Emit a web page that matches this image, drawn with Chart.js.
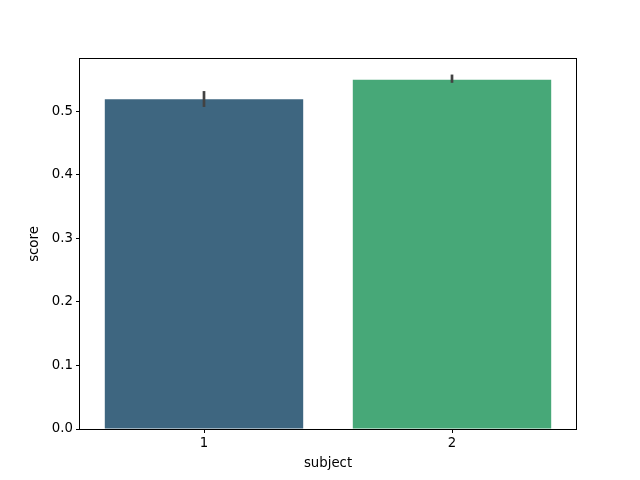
<!DOCTYPE html>
<html>
<head>
<meta charset="utf-8">
<script src="https://cdn.jsdelivr.net/npm/chart.js@4"></script>
<style>
  body { margin: 0; background: #fff; }
  #chart { display: block; }
</style>
</head>
<body>
<canvas id="chart" width="640" height="480"></canvas>
<script>
// data
var subjects = ["1", "2"];
var scores = [0.519, 0.550];
var errLow = [0.507, 0.545];
var errHigh = [0.532, 0.558];
var yTicks = [0, 0.1, 0.2, 0.3, 0.4, 0.5];
var barColours = ["#3e6680", "#47a878"];

// error bars on top of the bars
var errorBars = {
  id: "errorBars",
  afterDatasetsDraw: function(chart) {
    var ctx = chart.ctx;
    var x = chart.scales.x;
    var y = chart.scales.y;
    ctx.save();
    ctx.strokeStyle = "#424242";
    ctx.lineWidth = 2.7;
    for (var i = 0; i < subjects.length; i++) {
      var px = x.getPixelForValue(i);
      ctx.beginPath();
      ctx.moveTo(px, y.getPixelForValue(errLow[i]));
      ctx.lineTo(px, y.getPixelForValue(errHigh[i]));
      ctx.stroke();
    }
    ctx.restore();
  }
};

// matplotlib style box round the axes
var frame = {
  id: "frame",
  afterDraw: function(chart) {
    var a = chart.chartArea;
    var ctx = chart.ctx;
    var l = Math.floor(a.left) - 0.5, r = Math.ceil(a.right) + 0.5;
    var t = Math.floor(a.top) - 0.5, b = Math.floor(a.bottom) + 0.5;
    ctx.save();
    ctx.strokeStyle = "#000";
    ctx.lineWidth = 1;
    ctx.strokeRect(l, t, r - l, b - t);
    ctx.restore();
  }
};

var font = { family: "DejaVu Sans", size: 13.3 };

new Chart(document.getElementById("chart").getContext("2d"), {
  type: "bar",
  data: {
    labels: subjects,
    datasets: [{
      data: scores,
      backgroundColor: barColours,
      borderWidth: 0,
      categoryPercentage: 0.8,
      barPercentage: 1.0
    }]
  },
  options: {
    responsive: false,
    animation: false,
    devicePixelRatio: 1,
    layout: { padding: { left: 23, top: 59, right: 64, bottom: 4 } },
    plugins: {
      legend: { display: false },
      tooltip: { enabled: false }
    },
    scales: {
      x: {
        grid: { display: true, offset: false, drawOnChartArea: false, tickLength: 4, color: "#000", tickColor: "#000" },
        border: { display: false },
        ticks: { color: "#000", font: font, padding: 3 },
        title: { display: true, text: "subject", color: "#000", font: font },
        afterFit: function(s) { s.height = 47; }
      },
      y: {
        min: 0,
        max: 0.5825,
        grid: { display: true, drawOnChartArea: false, tickLength: 4, color: "#000", tickColor: "#000" },
        border: { display: false },
        ticks: {
          color: "#000",
          font: font,
          padding: 3,
          callback: function(v) { return v.toFixed(1); }
        },
        afterBuildTicks: function(s) {
          s.ticks = yTicks.map(function(v) { return { value: v }; });
        },
        title: { display: true, text: "score", color: "#000", font: font },
        afterFit: function(s) { s.width = 57; }
      }
    }
  },
  plugins: [errorBars, frame]
});
</script>
</body>
</html>
